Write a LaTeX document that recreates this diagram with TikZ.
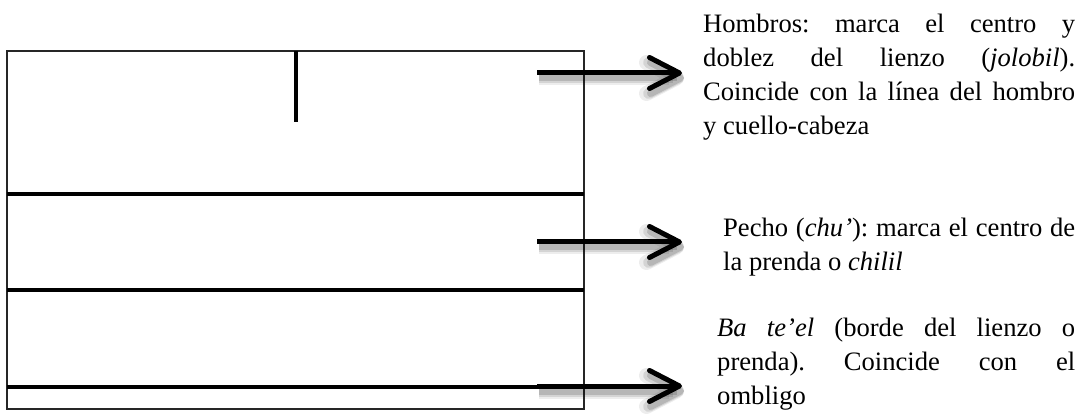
\documentclass[tikz,border=0pt]{standalone}
\usepackage{fontspec}
\setmainfont{Liberation Serif}
\usetikzlibrary{arrows.meta}
\frenchspacing
\begin{document}
\begin{tikzpicture}[x=1pt,y=-1pt,
  cloth/.style={draw=black!85, line width=1.8pt},
  fold/.style={draw=black, line width=4.5pt},
  pointer/.style={draw=black, line width=5pt,
    -{Straight Barb[length=30pt,width=31pt,round]},
    preaction={draw=black, draw opacity=0.07, line width=15pt,
      transform canvas={shift={(2pt,-5pt)}}},
    preaction={draw=black, draw opacity=0.10, line width=11pt,
      transform canvas={shift={(2pt,-5pt)}}},
    preaction={draw=black, draw opacity=0.14, line width=7pt,
      transform canvas={shift={(2pt,-5pt)}}}},
  txt/.style={anchor=base west, inner sep=0pt,
    font=\fontsize{26.6}{34}\selectfont}]
  % page frame
  \useasboundingbox (0,0) rectangle (1080,414);
  \fill[white] (0,0) rectangle (1080,414);

  % the cloth and its folds
  \draw[cloth] (7,51) rectangle (584,409);
  \draw[fold] (296,51) -- (296,122);
  \draw[fold] (7,194) -- (584,194);
  \draw[fold] (7,290) -- (584,290);
  \draw[fold] (7,387) -- (584,387);

  % labels
  \node[txt] (hombros) at (703,33) {\parbox[t]{372pt}{Hombros: marca el centro y\linebreak doblez del lienzo (\textit{jolobil}).\linebreak Coincide con la línea del hombro\linebreak y cuello-cabeza}};
  \node[txt] (pecho) at (723,237) {\parbox[t]{352pt}{Pecho (\textit{chu’}): marca el centro de\linebreak la prenda o \textit{chilil}}};
  \node[txt] (bateel) at (717,337) {\parbox[t]{358pt}{\textit{Ba te’el} (borde del lienzo o\linebreak prenda). Coincide con el\linebreak ombligo}};

  % arrow ends
  \coordinate (s1) at (537,73);
  \coordinate (e1) at (682,73);
  \coordinate (s2) at (537,242);
  \coordinate (e2) at (682,242);
  \coordinate (s3) at (537,386);
  \coordinate (e3) at (682,386);

  \draw[pointer] (s1) -- (e1);
  \draw[pointer] (s2) -- (e2);
  \draw[pointer] (s3) -- (e3);
\end{tikzpicture}
\end{document}
